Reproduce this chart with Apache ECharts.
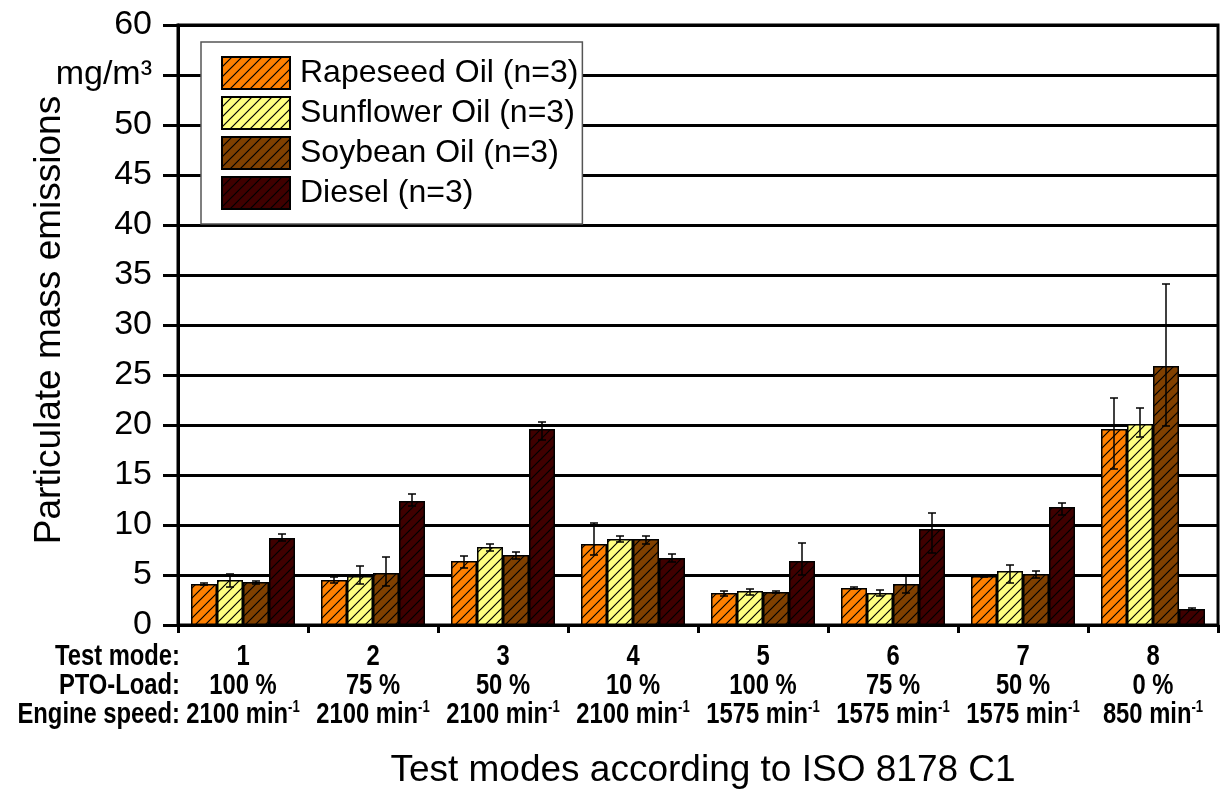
<!DOCTYPE html>
<html>
<head>
<meta charset="utf-8">
<script src="https://cdn.jsdelivr.net/npm/echarts@6/dist/echarts.min.js"></script>
<style>
  html, body { margin: 0; padding: 0; background: #fff; }
  #chart { width: 1224px; height: 792px; }
</style>
</head>
<body>
<div id="chart"></div>
<script>
// Test modes (ISO 8178 C1) and their operating points
const modes = ['1', '2', '3', '4', '5', '6', '7', '8'];
const ptoLoads = ['100 %', '75 %', '50 %', '10 %', '100 %', '75 %', '50 %', '0 %'];
const engineSpeeds = ['2100', '2100', '2100', '2100', '1575', '1575', '1575', '850'];

// Mean particulate mass emissions, mg/m³
const rapeseed = [4.1, 4.5, 6.4, 8.1, 3.2, 3.7, 4.9, 19.6];
const sunflower = [4.5, 4.9, 7.8, 8.6, 3.4, 3.2, 5.4, 20.1];
const soybean = [4.3, 5.2, 7.0, 8.6, 3.3, 4.1, 5.1, 25.9];
const diesel = [8.7, 12.4, 19.6, 6.7, 6.4, 9.6, 11.8, 1.6];

// Error bar ranges [low, high], mg/m³
const rapeseedRange = [[4.0, 4.2], [4.2, 4.8], [5.7, 6.9], [7.0, 10.2], [2.9, 3.4], [3.6, 3.8], [4.8, 5.0], [15.6, 22.7]];
const sunflowerRange = [[3.8, 5.1], [4.1, 5.9], [7.4, 8.1], [8.3, 8.9], [3.0, 3.6], [2.9, 3.5], [4.2, 6.0], [18.8, 21.7]];
const soybeanRange = [[4.1, 4.4], [3.9, 6.8], [6.6, 7.3], [8.1, 8.9], [3.2, 3.4], [3.2, 4.9], [4.7, 5.4], [19.9, 34.1]];
const dieselRange = [[8.4, 9.1], [11.9, 13.1], [18.5, 20.3], [6.3, 7.1], [5.0, 8.2], [7.2, 11.2], [11.0, 12.2], [1.5, 1.7]];

const seriesNames = ['Rapeseed Oil (n=3)', 'Sunflower Oil (n=3)', 'Soybean Oil (n=3)', 'Diesel (n=3)'];
const seriesFills = ['#FF8000', '#FFFF80', '#804000', '#400000'];
const seriesValues = [rapeseed, sunflower, soybean, diesel];
const seriesRanges = [rapeseedRange, sunflowerRange, soybeanRange, dieselRange];

const FONT = '"Liberation Sans", Arial, Helvetica, sans-serif';
const NARROW_SCALE = 0.82; // condensed look for the operating-point table

// Diagonal hatch fill: solid colour with thin black "/" lines
function hatch(fill) {
  const s = 10;
  const c = document.createElement('canvas');
  c.width = s; c.height = s;
  const g = c.getContext('2d');
  g.fillStyle = fill;
  g.fillRect(0, 0, s, s);
  g.strokeStyle = '#000';
  g.lineWidth = 1.2;
  g.beginPath();
  g.moveTo(-1, s + 1); g.lineTo(s + 1, -1);
  g.moveTo(-1, 1); g.lineTo(1, -1);
  g.moveTo(s - 1, s + 1); g.lineTo(s + 1, s - 1);
  g.stroke();
  return { image: c, repeat: 'repeat' };
}

const nSeries = seriesNames.length;
const catGap = 0.2; // barCategoryGap

const barSeries = seriesNames.map((name, k) => ({
  name: name,
  type: 'bar',
  data: seriesValues[k],
  barGap: '0%',
  barCategoryGap: (catGap * 100) + '%',
  itemStyle: { color: hatch(seriesFills[k]), borderColor: '#000', borderWidth: 1.5 },
  z: 3
}));

const errorSeries = seriesRanges.map((range, k) => ({
  name: seriesNames[k] + ' error',
  type: 'custom',
  data: range.map((r, i) => [i, r[0], r[1]]),
  z: 5,
  renderItem: function (params, api) {
    const i = api.value(0);
    const band = api.size([1, 0])[0];
    const bw = band * (1 - catGap) / nSeries;
    const lo = api.coord([i, api.value(1)]);
    const hi = api.coord([i, api.value(2)]);
    const x = lo[0] + (k - (nSeries - 1) / 2) * bw;
    const cap = 4;
    const style = { stroke: '#000', lineWidth: 1.5 };
    return {
      type: 'group',
      children: [
        { type: 'line', shape: { x1: x, y1: lo[1], x2: x, y2: hi[1] }, style: style },
        { type: 'line', shape: { x1: x - cap, y1: lo[1], x2: x + cap, y2: lo[1] }, style: style },
        { type: 'line', shape: { x1: x - cap, y1: hi[1], x2: x + cap, y2: hi[1] }, style: style }
      ]
    };
  }
}));

const chart = echarts.init(document.getElementById('chart'), null, { renderer: 'canvas' });

chart.setOption({
  animation: false,
  backgroundColor: '#fff',
  textStyle: { fontFamily: FONT, color: '#000' },
  grid: {
    left: 178, right: 6, top: 25, bottom: 167,
    show: true, borderColor: '#000', borderWidth: 3
  },
  legend: {
    data: seriesNames,
    orient: 'vertical',
    left: 201, top: 42,
    padding: [14, 4, 14, 20],
    itemWidth: 68, itemHeight: 32, itemGap: 6,
    backgroundColor: '#fff',
    borderColor: '#555', borderWidth: 1.5,
    icon: 'rect',
    textStyle: { fontFamily: FONT, fontSize: 32, color: '#000', padding: [0, 0, 0, 5] }
  },
  xAxis: {
    type: 'category',
    data: modes,
    axisLine: { lineStyle: { color: '#000', width: 3 } },
    axisTick: { show: true, length: 8, lineStyle: { color: '#000', width: 3 } },
    axisLabel: { show: false }
  },
  yAxis: {
    type: 'value',
    min: 0, max: 60, interval: 5,
    axisLine: { show: true, lineStyle: { color: '#000', width: 3 } },
    axisTick: { show: true, length: 15, lineStyle: { color: '#000', width: 3 } },
    splitLine: { show: true, lineStyle: { color: '#000', width: 3 } },
    axisLabel: {
      margin: 26,
      fontFamily: FONT, fontSize: 34, color: '#000',
      formatter: function (v) { return v === 55 ? 'mg/m³' : String(v); }
    }
  },
  series: barSeries.concat(errorSeries)
});

// Operating-point table under the x axis, one column per test mode,
// placed at the category centres given by the axis scale.
const tableTop = 642;
const tableRich = {
  b: { fontFamily: FONT, fontSize: 29, fontWeight: 'bold', lineHeight: 29, fill: '#000' },
  s: { fontFamily: FONT, fontSize: 16, fontWeight: 'bold', lineHeight: 29, verticalAlign: 'top', padding: [0, 0, 12, 0], fill: '#000' }
};
const graphics = [
  {
    type: 'text',
    x: 180, y: tableTop,
    scaleX: NARROW_SCALE,
    style: {
      text: 'Test mode:\nPTO-Load:\nEngine speed:',
      font: 'bold 29px ' + FONT,
      lineHeight: 29,
      align: 'right', verticalAlign: 'top',
      fill: '#000'
    }
  },
  {
    type: 'text',
    x: 703, y: 771,
    style: {
      text: 'Test modes according to ISO 8178 C1',
      font: '37px ' + FONT,
      align: 'center', verticalAlign: 'middle',
      fill: '#000'
    }
  },
  {
    type: 'text',
    x: 50, y: 320,
    rotation: Math.PI / 2,
    style: {
      text: 'Particulate mass emissions',
      font: '37px ' + FONT,
      align: 'center', verticalAlign: 'middle',
      fill: '#000'
    }
  }
];
modes.forEach(function (m, i) {
  const cx = chart.convertToPixel({ xAxisIndex: 0 }, i);
  graphics.push({
    type: 'text',
    x: cx, y: tableTop,
    scaleX: NARROW_SCALE,
    style: {
      text: '{b|' + m + '}\n{b|' + ptoLoads[i] + '}\n{b|' + engineSpeeds[i] + ' min}{s|-1}',
      rich: tableRich,
      align: 'center', verticalAlign: 'top'
    }
  });
});
chart.setOption({ graphic: graphics });
</script>
</body>
</html>
